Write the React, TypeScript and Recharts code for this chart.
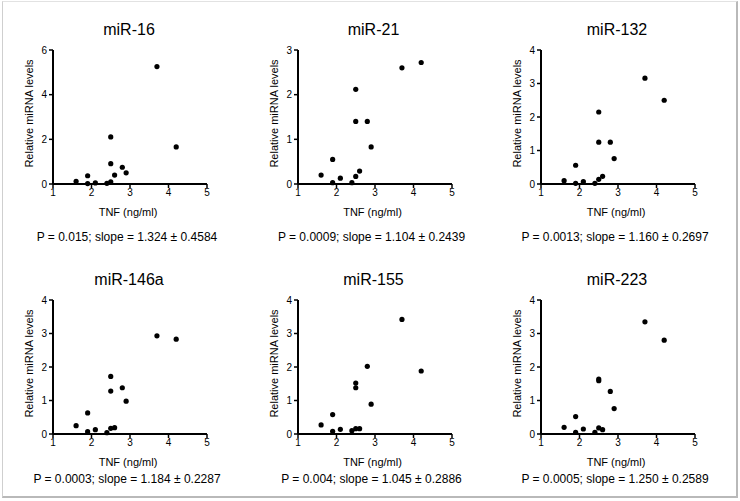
import React from 'react';
import { ScatterChart, Scatter, XAxis, YAxis } from 'recharts';

// TNF concentration shared by every panel (ng/ml)
const tnf = [1.6, 1.9, 1.9, 2.1, 2.4, 2.5, 2.5, 2.5, 2.6, 2.8, 2.9, 3.7, 4.2];

const mir16 = [0.12, 0.37, 0.02, 0.05, 0.03, 0.1, 0.91, 2.11, 0.4, 0.75, 0.5, 5.26, 1.66];
const mir21 = [0.2, 0.55, 0.03, 0.13, 0.03, 0.17, 1.4, 2.12, 0.29, 1.4, 0.83, 2.6, 2.72];
const mir132 = [0.1, 0.56, 0.02, 0.07, 0.02, 0.14, 1.25, 2.15, 0.23, 1.25, 0.76, 3.16, 2.5];
const mir146a = [0.25, 0.63, 0.07, 0.13, 0.04, 0.17, 1.28, 1.72, 0.19, 1.38, 0.98, 2.93, 2.83];
const mir155 = [0.27, 0.58, 0.08, 0.14, 0.1, 0.16, 1.38, 1.52, 0.16, 2.02, 0.89, 3.42, 1.88];
const mir223 = [0.2, 0.52, 0.05, 0.15, 0.05, 0.18, 1.59, 1.64, 0.13, 1.27, 0.76, 3.35, 2.8];

const xTicks = [1, 2, 3, 4, 5];
const yTicks6 = [0, 2, 4, 6];
const yTicks3 = [0, 1, 2, 3];
const yTicks4 = [0, 1, 2, 3, 4];

const titles = ['miR-16', 'miR-21', 'miR-132', 'miR-146a', 'miR-155', 'miR-223'];
const stats = [
  'P = 0.015; slope = 1.324 ± 0.4584',
  'P = 0.0009; slope = 1.104 ± 0.2439',
  'P = 0.0013; slope = 1.160 ± 0.2697',
  'P = 0.0003; slope = 1.184 ± 0.2287',
  'P = 0.004; slope = 1.045 ± 0.2886',
  'P = 0.0005; slope = 1.250 ± 0.2589',
];
const series = [mir16, mir21, mir132, mir146a, mir155, mir223];
const yTickSets = [yTicks6, yTicks3, yTicks4, yTicks4, yTicks4, yTicks4];

const FONT = 'Liberation Sans, Arial, sans-serif';

// layout
const AXIS_X = [53, 297.5, 541];
const PLOT_TOP = [49.5, 299.5];
const PLOT_W = 154;
const PLOT_H = 134;
const TITLE_Y = [35, 285];
const XLABEL_Y = [215.5, 465.5];
const STATS_Y = [241, 483];

const Dot = (props: any) => <circle cx={props.cx} cy={props.cy} r={2.6} fill="#000" />;

const axisLine = { stroke: '#000', strokeWidth: 2 };
const tickLine = { stroke: '#000', strokeWidth: 1.5 };
const tickStyle = { fill: '#000', fontSize: 10, fontFamily: FONT };

const Panel = ({ idx }: { idx: number }) => {
  const col = idx % 3;
  const row = Math.floor(idx / 3);
  const ticks = yTickSets[idx];
  const data = tnf.map((x, i) => ({ x, y: series[idx][i] }));
  return (
    <div style={{ position: 'absolute', left: AXIS_X[col] - 40, top: PLOT_TOP[row] - 10 }}>
      <ScatterChart width={204} height={168} margin={{ top: 10, right: 10, left: 0, bottom: 0 }}>
        <XAxis
          type="number"
          dataKey="x"
          domain={[1, 5]}
          ticks={xTicks}
          height={24}
          axisLine={axisLine}
          tickLine={tickLine}
          tickSize={4}
          tickMargin={1}
          tick={tickStyle}
          interval={0}
        />
        <YAxis
          type="number"
          dataKey="y"
          domain={[0, ticks[ticks.length - 1]]}
          ticks={ticks}
          width={40}
          axisLine={axisLine}
          tickLine={tickLine}
          tickSize={4}
          tickMargin={2}
          tick={tickStyle}
          interval={0}
        />
        <Scatter data={data} shape={<Dot />} isAnimationActive={false} />
      </ScatterChart>
    </div>
  );
};

const Texts = () => (
  <svg width={740} height={501} style={{ position: 'absolute', left: 0, top: 0, pointerEvents: 'none' }}>
    {titles.map((t, idx) => {
      const col = idx % 3;
      const row = Math.floor(idx / 3);
      const ax = AXIS_X[col];
      return (
        <g key={t} fontFamily={FONT} fill="#000">
          <text x={ax + 76} y={TITLE_Y[row]} fontSize={16} textAnchor="middle">{t}</text>
          <text
            transform={`translate(${ax - 20},${PLOT_TOP[row] + 64}) rotate(-90)`}
            fontSize={11}
            textAnchor="middle"
          >
            Relative miRNA levels
          </text>
          <text x={ax + 75} y={XLABEL_Y[row]} fontSize={11} textAnchor="middle">TNF (ng/ml)</text>
          <text x={ax + 74} y={STATS_Y[row]} fontSize={12} textAnchor="middle">{stats[idx]}</text>
        </g>
      );
    })}
  </svg>
);

export default function App() {
  return (
    <div style={{ position: 'absolute', left: 0, top: 0, width: 740, height: 501, background: '#fff' }}>
      <div
        style={{
          position: 'absolute',
          left: 2,
          top: 1,
          width: 733,
          height: 494,
          borderTop: '1px solid #e2e2e2',
          borderLeft: '1px solid #cfcfcf',
          borderRight: '2px solid #b9b9b9',
          borderBottom: '2px solid #b9b9b9',
        }}
      />
      {titles.map((t, i) => (
        <Panel key={t} idx={i} />
      ))}
      <Texts />
    </div>
  );
}
